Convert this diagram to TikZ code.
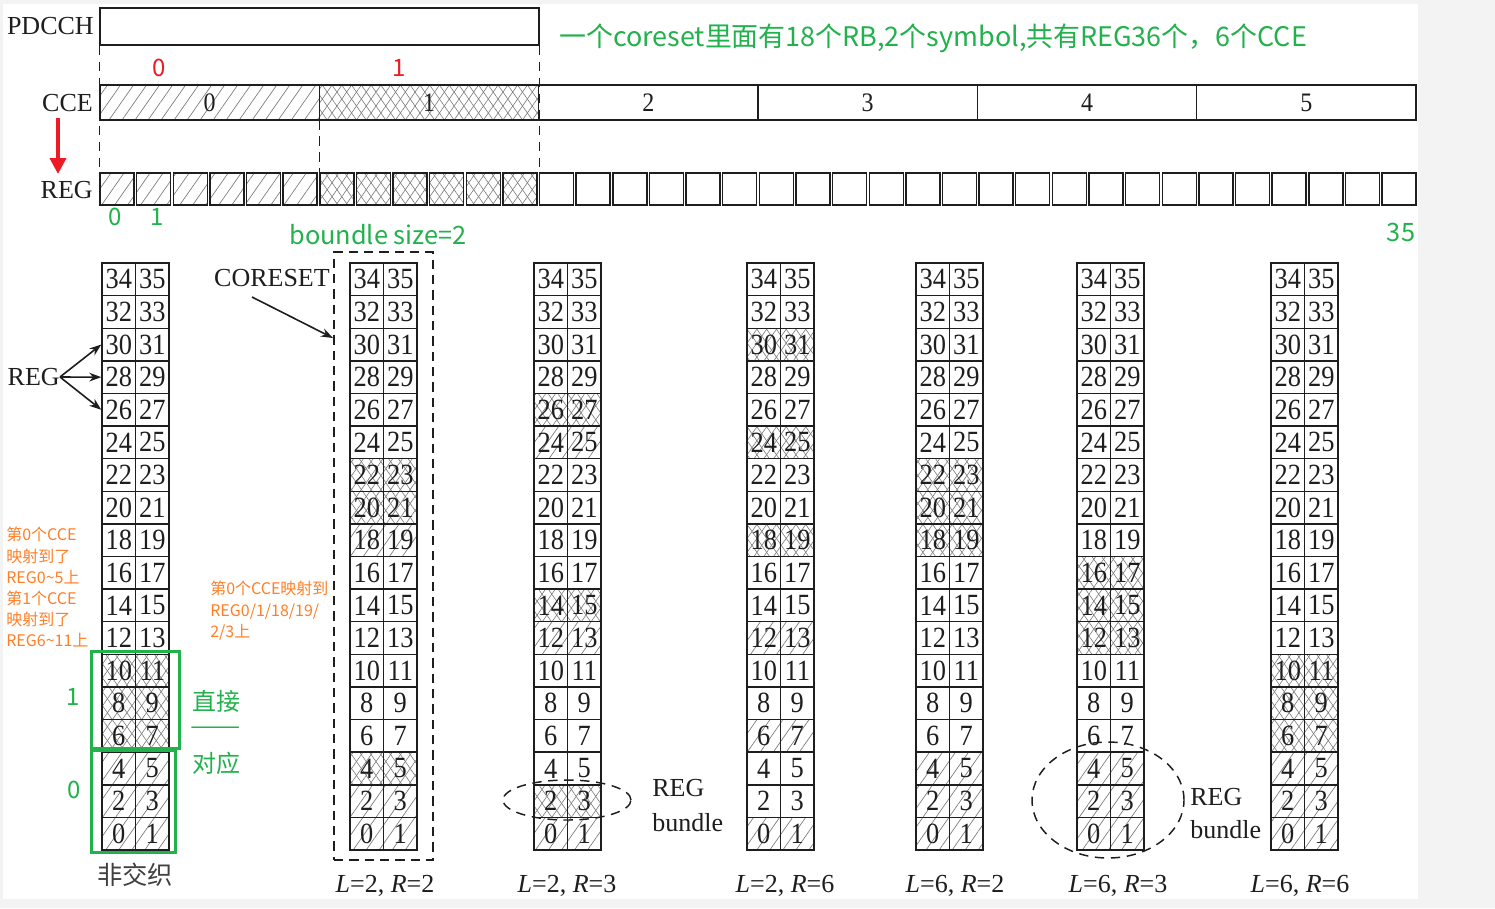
\documentclass[tikz,border=0pt]{standalone}
\usepackage{fontspec}
\setmainfont{Liberation Serif}
\newfontfamily\cjk{Noto Sans CJK SC}
\newfontfamily\numfont{Liberation Serif}[FakeStretch=0.9]
\usetikzlibrary{patterns.meta,arrows.meta,shapes.geometric}
\definecolor{pgreen}{HTML}{22B14C}
\definecolor{pred}{HTML}{ED1C24}
\definecolor{porange}{HTML}{FF7F27}
\definecolor{ink}{HTML}{1E1E1E}
\definecolor{hatchgray}{HTML}{7A7A7A}
\definecolor{bggray}{HTML}{F3F3F3}
\tikzset{
  shatch/.style={pattern={Lines[angle=55,distance=8pt,line width=0.5pt]},pattern color=hatchgray},
  xhatch/.style={preaction={pattern={Lines[angle=55,distance=6pt,line width=0.45pt]},pattern color=hatchgray},
                 pattern={Lines[angle=-55,distance=6pt,line width=0.45pt]},pattern color=hatchgray},
  box/.style={draw=ink,line width=1.1pt,inner sep=0pt},
  cceb/.style={box,minimum width=164.5pt,minimum height=26.25pt,font=\numfont\fontsize{20}{24}\selectfont,text=ink},
  regsq/.style={box,minimum width=25.5pt,minimum height=24pt},
  cell/.style={box,minimum width=25.1pt,minimum height=24.46pt,font=\numfont\fontsize{22}{24}\selectfont,text=ink},
  lbl/.style={inner sep=0pt,text=ink,font=\fontsize{19.5}{23}\selectfont},
  vdash/.style={draw=ink,line width=1.1pt,dash pattern=on 7pt off 5pt},
  grn/.style={inner sep=0pt,text=pgreen,font=\cjk\fontsize{18}{22}\selectfont},
  org/.style={inner sep=0pt,text=porange,align=left,font=\cjk\fontsize{12}{15.9}\selectfont},
  arr/.style={draw=ink,line width=1.2pt,-{Stealth[length=9pt,width=6.5pt]}},
}
\newcommand\regcolumn[4]{%
  \foreach \r in {#3}{\fill[shatch] (#2,{850-32.61*(\r+1)}) rectangle ++(67,32.61);}
  \foreach \r in {#4}{\fill[xhatch] (#2,{850-32.61*(\r+1)}) rectangle ++(67,32.61);}
  \foreach \r in {0,...,17}{%
    \pgfmathtruncatemacro\ra{2*\r}\pgfmathtruncatemacro\rb{2*\r+1}%
    \node[cell] (#1-\ra) at ({#2+16.75},{850-32.61*(\r+0.5)}) {\ra};
    \node[cell] (#1-\rb) at ({#2+50.25},{850-32.61*(\r+0.5)}) {\rb};
  }%
}
\begin{document}
\begin{tikzpicture}[x=0.75pt,y=-0.75pt]
\useasboundingbox (0,0) rectangle (1495,908);
\fill[bggray] (0,0) rectangle (1495,908);
\fill[white] (3,4) rectangle (1418,899);

% ---------- top: PDCCH / CCE / REG ----------
\node[box,minimum width=329.25pt,minimum height=27.75pt] (pdcch) at (319.5,26.5) {};
\node[lbl,anchor=east] (pdcchlbl) at (94,26) {PDCCH};
\node[cceb,shatch] (cce0) at (209.67,102.5) {0};
\node[cceb,xhatch] (cce1) at (429,102.5) {1};
\node[cceb] (cce2) at (648.33,102.5) {2};
\node[cceb] (cce3) at (867.67,102.5) {3};
\node[cceb] (cce4) at (1087,102.5) {4};
\node[cceb] (cce5) at (1306.33,102.5) {5};
\node[lbl,anchor=east] (ccelbl) at (93,103) {CCE};
\node[lbl,anchor=east] (reglbl) at (93,190) {REG};
\foreach \i in {0,...,5}{\node[regsq,shatch] (reg\i) at ({117+36.63*\i},189) {};}
\foreach \i in {6,...,11}{\node[regsq,xhatch] (reg\i) at ({117+36.63*\i},189) {};}
\foreach \i in {12,...,35}{\node[regsq] (reg\i) at ({117+36.63*\i},189) {};}
\draw[vdash] (pdcch.south west) -- (reg0.north west);
\draw[vdash] (pdcch.south east) -- (pdcch.south east |- reg0.north);
\draw[vdash] (cce0.south east) -- (cce0.south east |- reg0.north);

\node[inner sep=0pt,text=pred,font=\cjk\fontsize{18}{22}\selectfont] (r0) at (159,68) {0};
\node[inner sep=0pt,text=pred,font=\cjk\fontsize{18}{22}\selectfont] (r1) at (399,68) {1};
\coordinate (ra1) at (58,118);
\coordinate (ra2) at (58,174);
\draw[pred,line width=2.8pt,-{Triangle[length=12pt,width=12pt]}] (ra1) -- (ra2);

\node[grn] (g0) at (115,217) {0};
\node[grn] (g1) at (157,217) {1};
\node[grn,font=\cjk\fontsize{19}{22}\selectfont] (bsize) at (378,235) {boundle size=2};
\node[grn,font=\cjk\fontsize{19}{22}\selectfont] (g35) at (1401,232) {35};
\node[grn,anchor=west,font=\cjk\fontsize{20.2}{24}\selectfont] (title) at (559,38) {一个coreset里面有18个RB,2个symbol,共有REG36个，6个CCE};

% ---------- bottom columns ----------
\regcolumn{a}{102}{0,1,2}{3,4,5}
\regcolumn{b}{350}{0,1,9}{2,10,11}
\regcolumn{c}{534}{0,6,12}{1,7,13}
\regcolumn{d}{747}{0,3,6}{9,12,15}
\regcolumn{e}{916}{0,1,2}{9,10,11}
\regcolumn{f}{1077}{0,1,2}{6,7,8}
\regcolumn{g}{1271}{0,1,2}{3,4,5}

% REG arrows
\node[lbl,anchor=east] (regside) at (60,377) {REG};
\draw[arr] (regside.east) -- (a-30.west);
\draw[arr] (regside.east) -- (a-28.west);
\draw[arr] (regside.east) -- (a-26.west);

% CORESET box
\node[draw=ink,line width=1.2pt,dash pattern=on 7pt off 4.5pt,minimum width=74.25pt,minimum height=456pt,inner sep=0pt] (coreset) at (383.5,556) {};
\node[lbl,anchor=east] (coresetlbl) at (330,278) {CORESET};
\coordinate (cs1) at (252,297);
\coordinate (cs2) at (333,338);
\draw[arr] (cs1) -- (cs2);

% REG bundles
\node[ellipse,draw=ink,line width=1.1pt,dash pattern=on 7pt off 5pt,minimum width=96pt,minimum height=30pt,inner sep=0pt] (bund1) at (567,800) {};
\node[lbl,anchor=west] (bund1a) at (652,788) {REG};
\node[lbl,anchor=west] (bund1b) at (652,823) {bundle};
\node[ellipse,draw=ink,line width=1.1pt,dash pattern=on 7pt off 5pt,minimum width=114pt,minimum height=87pt,inner sep=0pt] (bund2) at (1108,800) {};
\node[lbl,anchor=west] (bund2a) at (1190,797) {REG};
\node[lbl,anchor=west] (bund2b) at (1190,830) {bundle};

% column captions
\node[lbl,font=\cjk\fontsize{19}{22}\selectfont,text=ink!85] (cap1) at (135,875) {非交织};
\node[lbl] (cap2) at (385,886) {\textit{L}=2, \textit{R}=2};
\node[lbl] (cap3) at (567,886) {\textit{L}=2, \textit{R}=3};
\node[lbl] (cap4) at (785,886) {\textit{L}=2, \textit{R}=6};
\node[lbl] (cap5) at (955,886) {\textit{L}=6, \textit{R}=2};
\node[lbl] (cap6) at (1118,886) {\textit{L}=6, \textit{R}=3};
\node[lbl] (cap7) at (1300,886) {\textit{L}=6, \textit{R}=6};

% annotations
\node[org,anchor=north west] (note1) at (6,527) {第0个CCE\\映射到了\\REG0\textasciitilde5上\\第1个CCE\\映射到了\\REG6\textasciitilde11上};
\node[org,anchor=north west] (note2) at (210,581) {第0个CCE映射到\\REG0/1/18/19/\\2/3上};

\draw[pgreen,line width=2.25pt] (91,651) rectangle (179,748);
\draw[pgreen,line width=2.25pt] (91,750) rectangle (175,852);
\node[grn] (gl1) at (73,697) {1};
\node[grn] (gl0) at (74,790) {0};
\node[grn] (zj1) at (216,701) {直接};
\node[grn,font=\cjk\fontsize{18}{22}\selectfont\addfontfeature{FakeStretch=1.25}] (zj2) at (216,731) {——};
\node[grn] (zj3) at (216,763) {对应};
\end{tikzpicture}
\end{document}
